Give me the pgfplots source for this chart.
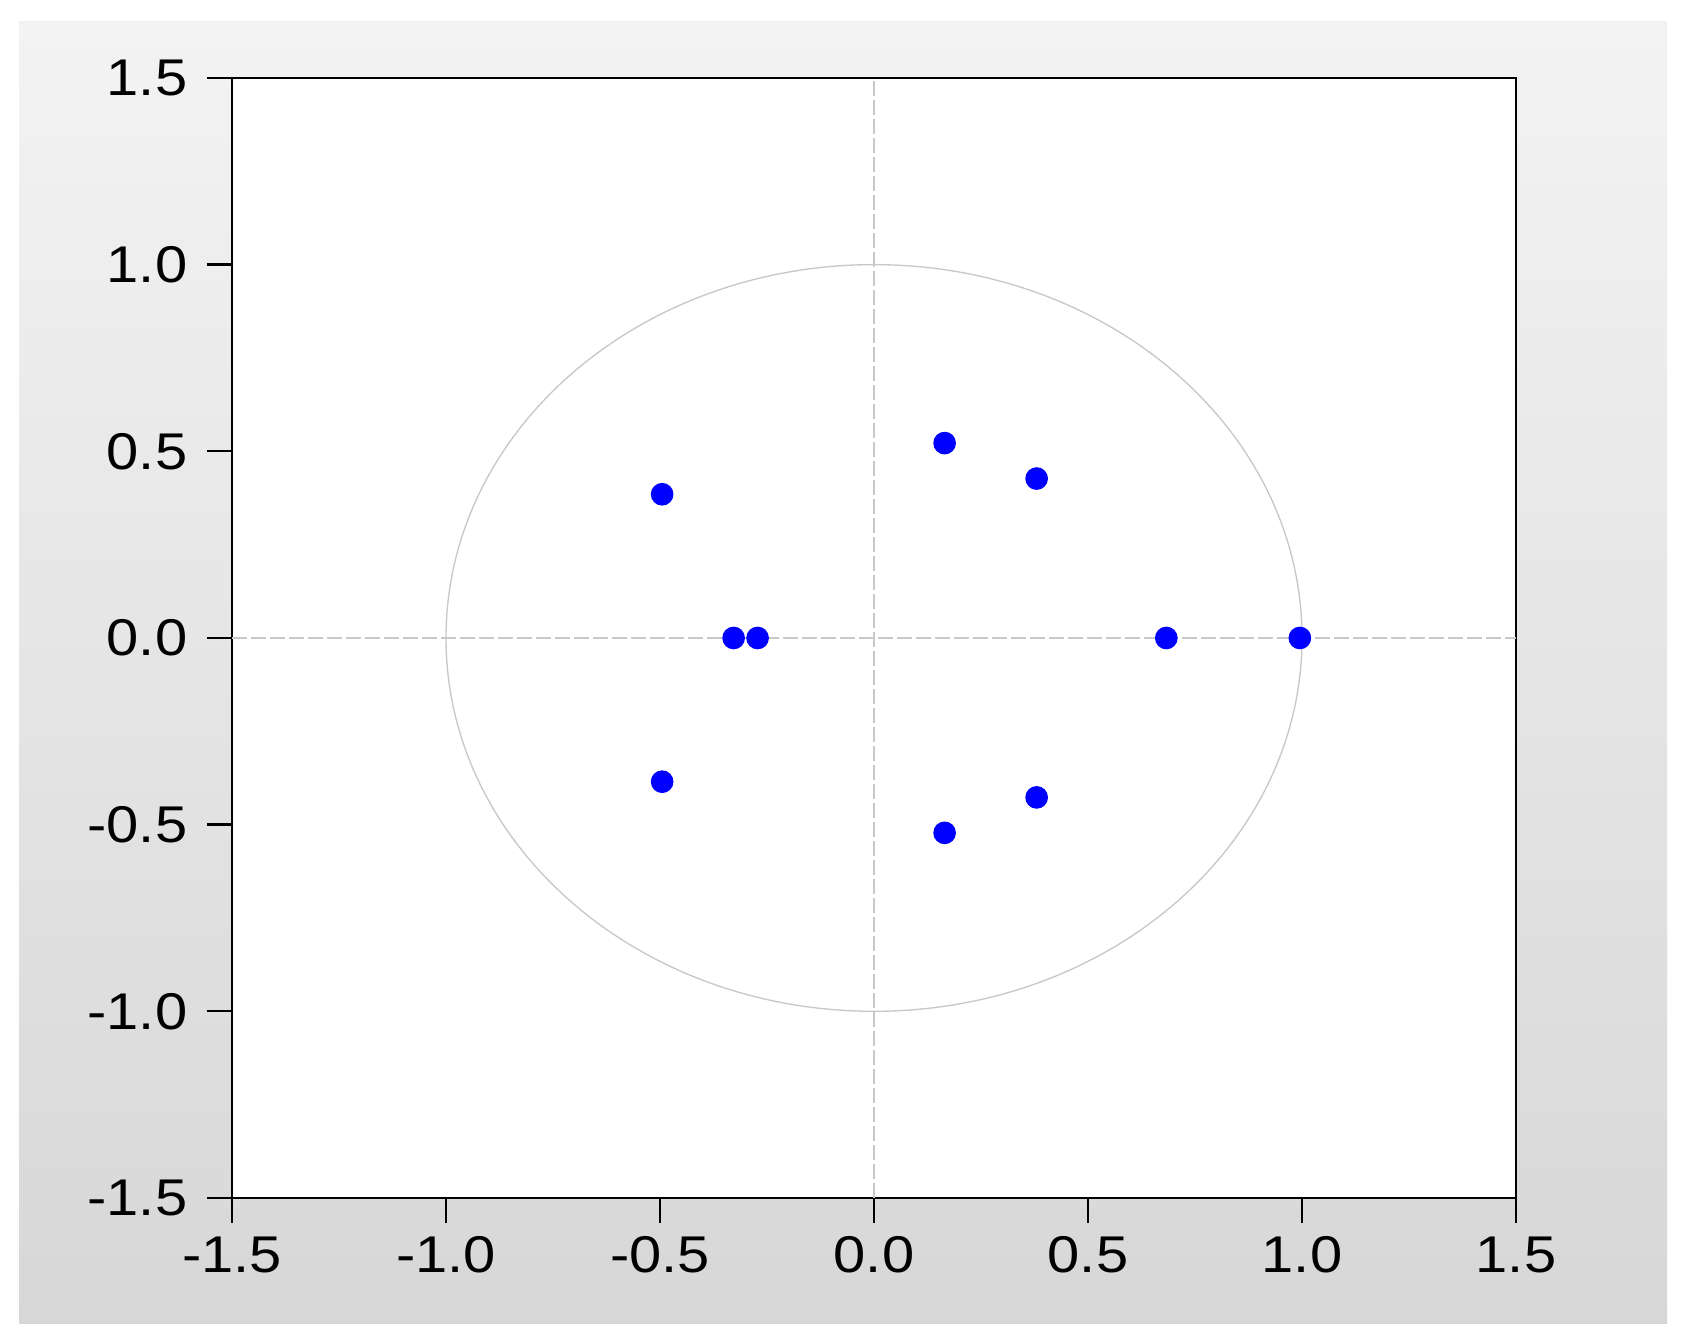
\documentclass[border=0pt]{standalone}
\usepackage{fontspec}
\setmainfont{Liberation Sans}
\newfontfamily\tickfont[FakeStretch=1.12]{Liberation Sans}
\usepackage{pgfplots}
\pgfplotsset{compat=1.18}
\definecolor{refgray}{HTML}{C8C8C8}
\definecolor{bgtop}{HTML}{F3F3F3}
\definecolor{bgbot}{HTML}{D7D7D7}
\begin{document}
\begin{tikzpicture}
\fill[white] (0,0) rectangle (506.4pt,403.2pt);
\useasboundingbox (0,0) rectangle (506.4pt,403.2pt);
\shade[top color=bgtop, bottom color=bgbot] (5.7pt,6pt) rectangle (500.1pt,396.6pt);
\begin{axis}[
  at={(69.6pt,43.8pt)}, anchor=south west,
  scale only axis, width=385.2pt, height=336pt,
  xmin=-1.5, xmax=1.5, ymin=-1.5, ymax=1.5,
  xtick={-1.5,-1,-0.5,0,0.5,1,1.5},
  ytick={-1.5,-1,-0.5,0,0.5,1,1.5},
  xtick pos=bottom, ytick pos=left,
  tick align=outside, major tick length=7.5pt,
  axis line style={line width=0.7pt, black},
  every tick/.style={line width=0.7pt, black},
  axis background/.style={fill=white},
  tick label style={font=\tickfont\fontsize{15.5}{18}\selectfont},
  yticklabel style={xshift=-2.4pt},
  xticklabel style={yshift=-0.6pt},
  /pgf/number format/assume math mode=true,
  /pgf/number format/.cd, fixed, fixed zerofill, precision=1,
]
\draw[refgray, line width=0.4pt, dash pattern=on 4.5pt off 1.2pt] (axis cs:-1.5,0) -- (axis cs:1.5,0);
\draw[refgray, line width=0.4pt, dash pattern=on 4.5pt off 1.2pt] (axis cs:0,-1.5) -- (axis cs:0,1.5);
\draw[refgray, line width=0.4pt] (axis cs:0,0) ellipse [x radius=1, y radius=1];
\addplot[only marks, mark=*, mark size=3.2pt, color=blue, mark options={fill=blue, draw=blue}] coordinates {
  (-0.495,0.385) (-0.495,-0.385)
  (-0.328,0) (-0.272,0)
  (0.165,0.522) (0.165,-0.522)
  (0.38,0.427) (0.38,-0.427)
  (0.683,0) (0.995,0)
};
\end{axis}
\end{tikzpicture}
\end{document}
